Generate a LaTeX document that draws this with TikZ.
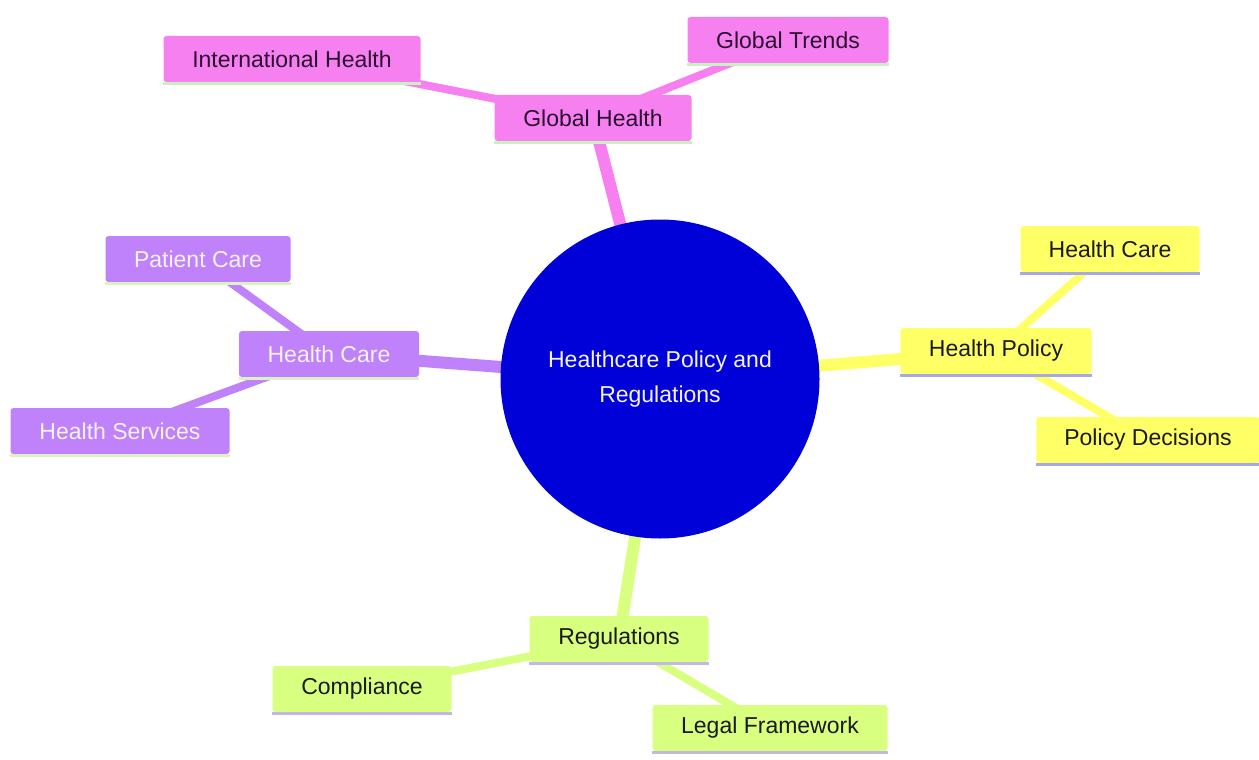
\documentclass[tikz,border=0pt]{standalone}
\usepackage{fontspec}
\setmainfont{Liberation Sans}
\usetikzlibrary{backgrounds}
\definecolor{cpink}{HTML}{F780F0}
\definecolor{cpurple}{HTML}{BF82FB}
\definecolor{cyellow}{HTML}{FFFF66}
\definecolor{cgreen}{HTML}{D8FF80}
\definecolor{cblue}{HTML}{0000D8}
\definecolor{ulpink}{HTML}{C8F0C0}
\definecolor{ulpurple}{HTML}{DDF2C4}
\definecolor{ulyellow}{HTML}{A8A8E8}
\definecolor{ulgreen}{HTML}{C4B6E6}
\definecolor{tpink}{HTML}{2A1030}
\definecolor{tdark}{HTML}{1A1A1A}
\definecolor{tlight}{HTML}{F6F2FC}
\tikzset{
  box/.style={rectangle, rounded corners=3pt, inner xsep=28pt, minimum height=46pt,
    font=\fontsize{23}{27}\selectfont},
  pinkbox/.style={box, fill=cpink, text=tpink},
  purplebox/.style={box, fill=cpurple, text=tlight},
  yellowbox/.style={box, fill=cyellow, text=tdark},
  greenbox/.style={box, fill=cgreen, text=tdark},
  mainedge/.style={line width=12pt},
  subedge/.style={line width=8pt},
  uline/.style={line width=3pt},
}
\begin{document}
\begin{tikzpicture}[x=1pt,y=-1pt]
\useasboundingbox (0,0) rectangle (1259,760);
% central circle
\node[circle, fill=cblue, minimum size=319pt, inner sep=0pt, text=tlight,
  align=center, font=\fontsize{23}{35}\selectfont] (root) at (660,379)
  {Healthcare Policy and\\Regulations};
% pink
\node[pinkbox, minimum width=197pt] (gh) at (593,118) {Global Health};
\node[pinkbox, minimum width=257pt] (ih) at (292,59) {International Health};
\node[pinkbox, minimum width=201pt] (gt) at (788,40) {Global Trends};
% purple
\node[purplebox, minimum width=180pt] (hc) at (329,354) {Health Care};
\node[purplebox, minimum width=185pt] (pc) at (198,259) {Patient Care};
\node[purplebox, minimum width=219pt] (hs) at (120,431) {Health Services};
% yellow
\node[yellowbox, minimum width=191pt] (hp) at (996,351) {Health Policy};
\node[yellowbox, minimum width=179pt] (yhc) at (1110,249) {Health Care};
\node[yellowbox, minimum width=221pt] (pd) at (1148,440) {Policy Decisions};
% green
\node[greenbox, minimum width=179pt] (reg) at (619,639) {Regulations};
\node[greenbox, minimum width=179pt] (com) at (362,689) {Compliance};
\node[greenbox, minimum width=235pt] (lf) at (770,728) {Legal Framework};
% underlines
\foreach \n in {gh,ih,gt} \draw[uline, ulpink] ([yshift=-1pt]\n.south west) -- ([yshift=-1pt]\n.south east);
\foreach \n in {hc,pc,hs} \draw[uline, ulpurple] ([yshift=-1pt]\n.south west) -- ([yshift=-1pt]\n.south east);
\foreach \n in {hp,yhc,pd} \draw[uline, ulyellow] ([yshift=-1pt]\n.south west) -- ([yshift=-1pt]\n.south east);
\foreach \n in {reg,com,lf} \draw[uline, ulgreen] ([yshift=-1pt]\n.south west) -- ([yshift=-1pt]\n.south east);
\begin{scope}[on background layer]
\draw[mainedge, cpink] (root.center) -- (gh.center);
\draw[subedge, cpink] (gh.center) -- (ih.center);
\draw[subedge, cpink] (gh.center) -- (gt.center);
\draw[mainedge, cpurple] (root.center) -- (hc.center);
\draw[subedge, cpurple] (hc.center) -- (pc.center);
\draw[subedge, cpurple] (hc.center) -- (hs.center);
\draw[mainedge, cyellow] (root.center) -- (hp.center);
\draw[subedge, cyellow] (hp.center) -- (yhc.center);
\draw[subedge, cyellow] (hp.center) -- (pd.center);
\draw[mainedge, cgreen] (root.center) -- (reg.center);
\draw[subedge, cgreen] (reg.center) -- (com.center);
\draw[subedge, cgreen] (reg.center) -- (lf.center);
\end{scope}
\end{tikzpicture}
\end{document}
